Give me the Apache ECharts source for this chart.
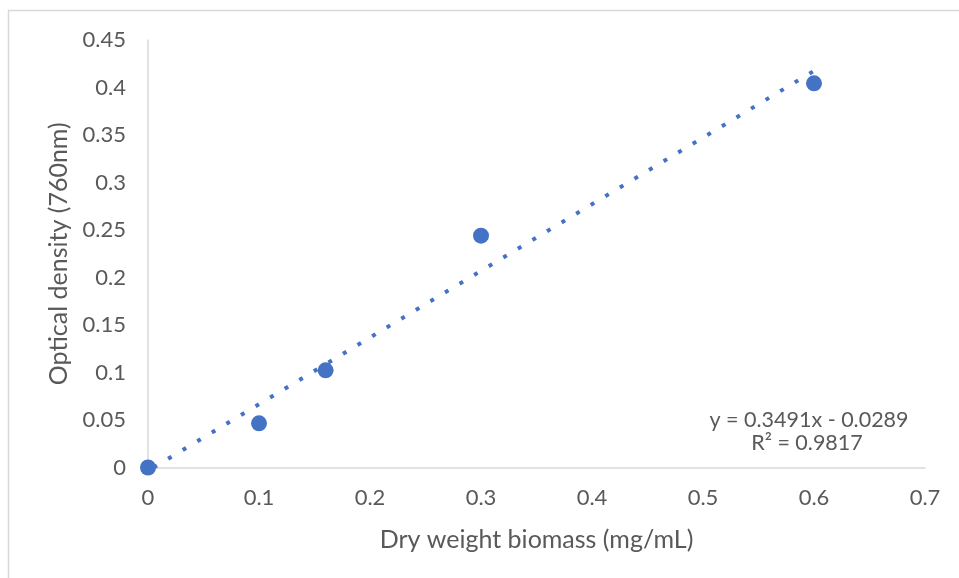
<!DOCTYPE html>
<html><head><meta charset="utf-8">
<script src="https://cdn.jsdelivr.net/npm/echarts@6/dist/echarts.min.js"></script>
<style>html,body{margin:0;padding:0;background:#fff}#c{width:959px;height:578px}</style>
</head><body><div id="c"></div>
<script>
const xValues = [0, 0.1, 0.16, 0.3, 0.6];
const yValues = [0, 0.0465, 0.1023, 0.244, 0.4044];
const trendX = [0.005, 0.6];
const trendY = [0.0, 0.4175];
const equationText = 'y = 0.3491x - 0.0289';
const r2Text = 'R² = 0.9817';
const xTitle = 'Dry weight biomass (mg/mL)';
const yTitle = 'Optical density (760nm)';

const FONT = 'Lato';
const TXT = '#595959';
const chart = echarts.init(document.getElementById('c'), null, {renderer: 'canvas'});
chart.setOption({
  animation: false,
  backgroundColor: '#fff',
  grid: {left: 148, right: 34, top: 40, bottom: 110.5, containLabel: false},
  xAxis: {
    type: 'value', min: 0, max: 0.7, interval: 0.1,
    name: xTitle, nameLocation: 'middle', nameGap: 59.5,
    nameTextStyle: {fontFamily: FONT, fontSize: 25, color: TXT},
    axisLine: {show: true, lineStyle: {color: '#d9d9d9', width: 1.5}},
    axisTick: {show: false},
    splitLine: {show: false},
    axisLabel: {fontFamily: FONT, fontSize: 22, color: TXT, margin: 19,
      formatter: v => String(+v.toFixed(2))}
  },
  yAxis: {
    type: 'value', min: 0, max: 0.45, interval: 0.05,
    name: yTitle, nameLocation: 'middle', nameGap: 73, nameRotate: 90,
    nameTextStyle: {fontFamily: FONT, fontSize: 25, color: TXT},
    axisLine: {show: true, lineStyle: {color: '#d9d9d9', width: 1.5}},
    axisTick: {show: false},
    splitLine: {show: false},
    axisLabel: {fontFamily: FONT, fontSize: 22, color: TXT, margin: 22,
      formatter: v => String(+v.toFixed(2))}
  },
  series: [
    {
      type: 'line', data: trendX.map((x, i) => [x, trendY[i]]),
      showSymbol: false, symbol: 'none',
      lineStyle: {color: '#4472c4', width: 4, type: [4, 13], cap: 'butt'},
      z: 2
    },
    {
      type: 'scatter', data: xValues.map((x, i) => [x, yValues[i]]),
      symbolSize: 16, itemStyle: {color: '#4472c4', opacity: 1}, z: 3
    }
  ],
  graphic: [
    {type: 'rect', shape: {x: 8.5, y: 10.5, width: 1000, height: 600},
     style: {fill: null, stroke: '#d9d9d9', lineWidth: 1.5}, silent: true},
    {type: 'text', x: 809, y: 420, style: {text: equationText, font: '21.5px ' + FONT, fill: TXT, align: 'center', verticalAlign: 'middle'}},
    {type: 'text', x: 807, y: 443, style: {text: r2Text, font: '21.5px ' + FONT, fill: TXT, align: 'center', verticalAlign: 'middle'}}
  ]
});
</script></body></html>
